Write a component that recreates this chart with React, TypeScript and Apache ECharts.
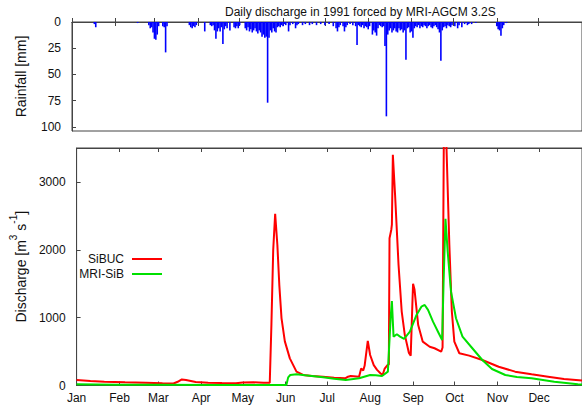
import React, { useEffect, useRef } from "react";
import * as echarts from "echarts";

const monthNames = ["Jan", "Feb", "Mar", "Apr", "May", "Jun", "Jul", "Aug", "Sep", "Oct", "Nov", "Dec"];
const monthStarts = [0, 31, 59, 90, 120, 151, 181, 212, 243, 273, 304, 334];

// daily rainfall [day of year, mm]
const rainfall: [number, number][] = [
  [16, 2], [17, 5], [47, 1], [55, 3], [56, 6], [57, 5], [58, 10], [59, 16], [60, 17], [61, 12], [62, 4],
  [65, 4], [66, 5], [67, 29], [68, 4], [84, 3], [85, 5], [86, 6], [87, 4], [88, 5], [89, 3], [95, 9],
  [99, 3], [100, 4], [101, 3], [102, 8], [103, 16], [104, 9], [105, 6], [106, 9], [107, 5], [108, 21],
  [109, 7], [110, 4], [111, 6], [113, 8], [116, 5], [117, 6], [118, 4], [119, 6], [120, 3],
  [124, 6], [125, 8], [126, 5], [127, 9], [128, 7], [129, 10], [130, 8], [131, 6], [132, 9], [133, 11],
  [134, 8], [135, 10], [136, 14], [137, 12], [138, 15], [139, 14], [140, 77], [141, 15], [142, 8],
  [143, 10], [144, 6], [145, 9], [146, 10], [147, 5], [148, 4], [149, 5], [150, 3], [151, 4], [152, 2],
  [153, 3], [155, 9], [156, 3], [158, 2], [160, 6], [161, 3], [162, 2], [165, 3], [167, 2], [170, 3],
  [172, 2], [175, 3], [178, 2], [181, 3], [184, 2], [187, 4], [189, 6], [190, 9], [191, 5], [192, 3],
  [194, 4], [195, 9], [196, 5], [197, 3], [199, 2], [201, 3], [203, 4], [204, 22], [205, 3], [206, 4],
  [207, 5], [208, 3], [209, 6], [210, 4], [211, 5], [212, 7], [213, 4], [215, 12], [216, 8], [217, 10],
  [218, 13], [219, 6], [220, 3], [221, 4], [222, 5], [223, 4], [224, 23], [225, 90], [226, 12], [227, 8],
  [228, 6], [229, 10], [230, 8], [231, 6], [232, 9], [233, 10], [234, 6], [235, 8], [236, 7], [237, 10],
  [238, 8], [239, 36], [240, 6], [241, 5], [242, 10], [243, 9], [244, 15], [245, 6], [246, 4], [247, 5],
  [248, 3], [249, 6], [250, 4], [251, 5], [252, 3], [253, 4], [254, 6], [255, 4], [256, 3], [257, 5],
  [258, 6], [259, 4], [260, 3], [261, 5], [262, 7], [263, 10], [264, 37], [265, 8], [266, 5], [267, 4],
  [268, 6], [269, 3], [270, 4], [271, 5], [272, 3], [274, 4], [276, 6], [277, 3], [279, 5], [281, 2],
  [283, 3], [284, 2], [286, 2], [289, 1], [304, 4], [305, 7], [306, 8], [307, 13], [308, 6], [309, 3],
  [311, 1],
];

// discharge SiBUC [day, m3/s]
const sibuc: [number, number][] = [
  [0, 80], [10, 66], [20, 56], [35, 47], [50, 40], [62, 33], [70, 30], [73, 55], [76, 90], [79, 80],
  [86, 52], [95, 40], [105, 36], [115, 34], [120, 45], [128, 47], [135, 40], [139.5, 40], [140.7, 900],
  [142, 2000], [143.4, 2530], [145, 2070], [146.4, 1480], [148, 990], [150.4, 650], [154, 400],
  [158.8, 205], [163.6, 155], [170, 140], [178, 130], [186, 115], [194, 106], [196, 130], [198, 140],
  [204, 130], [205.5, 250], [207, 220], [208, 290], [210.3, 656], [212, 450], [214.6, 300], [217, 230],
  [219.4, 180], [221, 155], [222.5, 250], [224.5, 300], [225.5, 310], [226, 2170], [227.3, 2300],
  [227.7, 2370], [228.4, 3400], [230, 2810], [232.5, 1780], [234.8, 1090], [237, 750], [240, 480],
  [241.3, 440], [242.5, 1200], [243, 1500], [244, 1420], [246.7, 890], [250, 646], [255, 572],
  [258.5, 549], [263.3, 500], [264.3, 560], [265.2, 3600], [266, 4300], [267, 3600], [269.2, 2070],
  [271, 1090], [272.8, 646], [276.4, 475], [283.5, 440], [293, 376], [304.8, 277], [316.7, 204],
  [328.6, 165], [340.5, 130], [352, 96], [365, 75],
];

// discharge MRI-SiB [day, m3/s]
const mrisib: [number, number][] = [
  [0, 20], [30, 12], [60, 10], [100, 8], [151.5, 8], [152.8, 120], [154.3, 155], [158.8, 165], [165, 150],
  [178, 121], [186, 100], [194.4, 81], [204, 106], [212, 155], [216, 150], [220.6, 140], [224.8, 204],
  [225.8, 600], [226.8, 1000], [227.7, 1246], [228.9, 720], [231.3, 755], [233.6, 720], [236.5, 686],
  [240.7, 793], [245.5, 1040], [249, 1162], [251.4, 1187], [253.8, 1114], [257.4, 941], [261, 793],
  [264, 671], [265, 1500], [266.4, 2456], [268, 1973], [270.4, 1383], [274, 991], [278.7, 720],
  [285.8, 549], [293, 376], [300, 243], [309.6, 155], [318, 125], [328.6, 106], [345, 56], [362, 18],
  [365, 15],
];

const FONT = "Liberation Sans, Arial, Helvetica, sans-serif";
const FRAME = "#444";

export default function App() {
  const ref = useRef<HTMLDivElement>(null);
  useEffect(() => {
    if (!ref.current) return;
    const chart = echarts.init(ref.current, undefined, { renderer: "svg" });
    const monthFmt = (v: number) => {
      const i = monthStarts.indexOf(v);
      return i >= 0 ? monthNames[i] : "";
    };
    const plainFmt = (v: number) => String(v);
    const xBase = (gridIndex: number, position: "bottom" | "top", labels: boolean) => ({
      type: "value" as const,
      gridIndex,
      position,
      min: 0,
      max: 365,
      splitLine: { show: false },
      axisLine: { show: true, lineStyle: { color: FRAME, width: 1 } },
      axisTick: { show: true, inside: true, length: 4, customValues: monthStarts, lineStyle: { color: FRAME } },
      axisLabel: labels
        ? {
            show: true,
            customValues: monthStarts,
            formatter: monthFmt,
            fontSize: 12,
            color: "#111",
            fontFamily: FONT,
            margin: 6,
            alignMinLabel: "center",
            alignMaxLabel: "center",
            hideOverlap: false,
          }
        : { show: false },
    });
    const legendBase = {
      right: 420,
      padding: 0,
      align: "right",
      icon: "rect",
      itemWidth: 30,
      itemHeight: 2,
      itemGap: 0,
      textStyle: { fontSize: 12, color: "#111", fontFamily: FONT, padding: [0, 3, 0, 0] },
    };
    chart.setOption({
      animation: false,
      backgroundColor: "#fff",
      textStyle: { fontFamily: FONT },
      title: {
        text: "Daily discharge in 1991 forced by MRI-AGCM 3.2S",
        left: 225,
        top: 6,
        padding: 0,
        textStyle: { fontSize: 12, fontWeight: "normal", color: "#111", fontFamily: FONT },
      },
      grid: [
        { left: 72, top: 22, width: 512.5, height: 109, show: true, borderColor: FRAME, borderWidth: 1 },
        { left: 72, top: 148, width: 512.5, height: 237.5, show: true, borderColor: FRAME, borderWidth: 1 },
      ],
      xAxis: [xBase(0, "bottom", false), xBase(0, "top", false), xBase(1, "bottom", true), xBase(1, "top", false)],
      yAxis: [
        {
          type: "value",
          gridIndex: 0,
          min: 0,
          max: 104,
          interval: 25,
          inverse: true,
          name: "Rainfall [mm]",
          nameLocation: "middle",
          nameGap: 44,
          nameTextStyle: { fontSize: 14, color: "#111", fontFamily: FONT },
          splitLine: { show: false },
          axisLine: { show: true, lineStyle: { color: FRAME } },
          axisTick: { show: true, inside: true, length: 4, lineStyle: { color: FRAME } },
          axisLabel: { fontSize: 12, color: "#111", fontFamily: FONT, margin: 11, showMaxLabel: false, formatter: plainFmt },
        },
        {
          type: "value",
          gridIndex: 1,
          min: 0,
          max: 3500,
          interval: 1000,
          name: "{a|Discharge [m}{s|3}{a| s}{s|-1}{a|]}",
          nameLocation: "middle",
          nameGap: 42,
          nameTextStyle: {
            fontSize: 14,
            color: "#111",
            fontFamily: FONT,
            rich: {
              a: { fontSize: 14, lineHeight: 20, verticalAlign: "bottom", color: "#111", fontFamily: FONT },
              s: { fontSize: 10, lineHeight: 10, verticalAlign: "top", color: "#111", fontFamily: FONT },
            },
          },
          splitLine: { show: false },
          axisLine: { show: true, lineStyle: { color: FRAME } },
          axisTick: { show: true, inside: true, length: 4, lineStyle: { color: FRAME } },
          axisLabel: { fontSize: 12, color: "#111", fontFamily: FONT, margin: 11, showMaxLabel: false, formatter: plainFmt },
        },
      ],
      legend: [
        { ...legendBase, data: ["SiBUC"], top: 253 },
        { ...legendBase, data: ["MRI-SiB"], top: 268 },
      ],
      series: [
        {
          name: "Rainfall",
          type: "bar",
          xAxisIndex: 0,
          yAxisIndex: 0,
          data: rainfall,
          barWidth: 1.6,
          itemStyle: { color: "#0000ff" },
        },
        {
          name: "SiBUC",
          type: "line",
          xAxisIndex: 2,
          yAxisIndex: 1,
          data: sibuc,
          symbol: "none",
          showSymbol: false,
          clip: true,
          color: "#ff0000",
          itemStyle: { color: "#ff0000" },
          lineStyle: { color: "#ff0000", width: 2 },
        },
        {
          name: "MRI-SiB",
          type: "line",
          xAxisIndex: 2,
          yAxisIndex: 1,
          data: mrisib,
          symbol: "none",
          showSymbol: false,
          clip: true,
          color: "#00e000",
          itemStyle: { color: "#00e000" },
          lineStyle: { color: "#00e000", width: 2 },
        },
      ],
    });
    return () => chart.dispose();
  }, []);
  return (
    <div style={{ position: "fixed", left: 0, top: 0, width: 582, height: 408, overflow: "hidden", background: "#fff" }}>
      <div ref={ref} style={{ width: 582, height: 408 }} />
    </div>
  );
}
